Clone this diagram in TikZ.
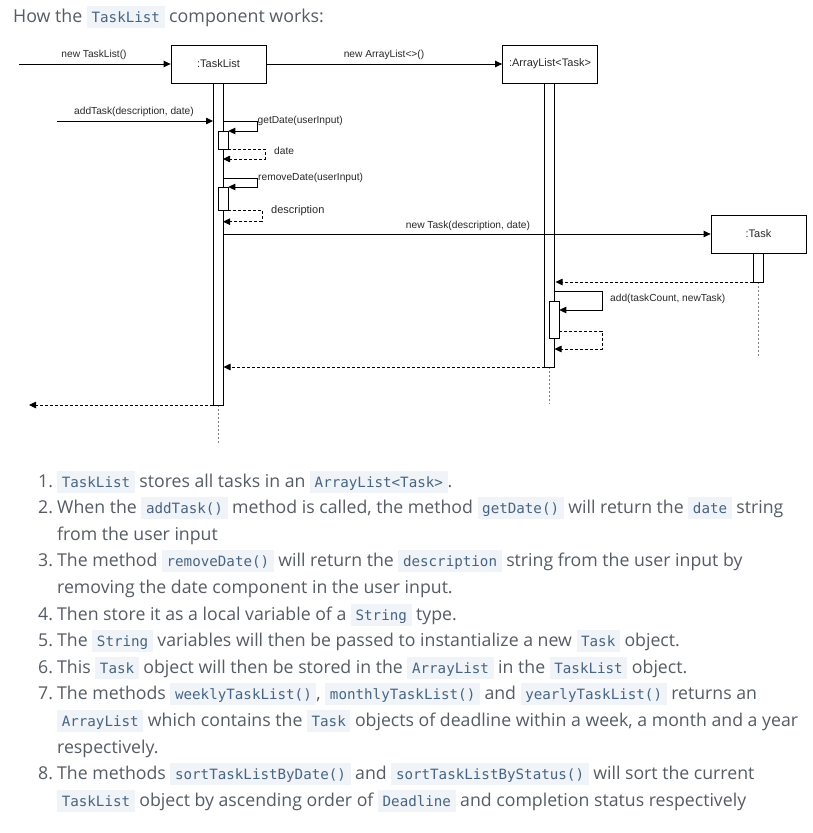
\documentclass[tikz,border=0pt]{standalone}
\usepackage{fontspec}
\usetikzlibrary{arrows.meta}
\setmainfont{Open Sans}
\newfontfamily\diagfont{Liberation Sans}
\newfontfamily\codefont{DejaVu Sans Mono}
\definecolor{textgray}{RGB}{86,92,100}
\definecolor{codefg}{RGB}{71,101,130}
\definecolor{codebg}{RGB}{240,243,247}
\definecolor{diagtext}{RGB}{40,40,40}
\newcommand{\code}[1]{\begingroup\setlength{\fboxsep}{0pt}\colorbox{codebg}{\rule[-5.5pt]{0pt}{22pt}\hspace{4.6pt}{\codefont\fontsize{14.2}{16}\selectfont\color{codefg}#1}\hspace{4.6pt}}\endgroup}
\tikzset{
  obj/.style={draw, line width=0.8pt, minimum width=95pt, minimum height=38pt, inner sep=0pt, font=\diagfont\fontsize{11}{13}\selectfont, text=diagtext},
  actbar/.style={draw, line width=0.8pt, fill=white, minimum width=10pt, inner sep=0pt, anchor=north},
  msg/.style={line width=0.8pt, -{Triangle[length=7pt,width=6.5pt]}},
  ret/.style={msg, dash pattern=on 3pt off 2pt},
  life/.style={line width=0.7pt, gray, dash pattern=on 2pt off 2pt},
  lbl/.style={inner sep=0pt, font=\diagfont\fontsize{10.2}{12}\selectfont, text=diagtext},
  body/.style={inner sep=0pt, anchor=base west, font=\fontsize{17.7}{20}\selectfont, text=textgray},
}
\begin{document}
\begin{tikzpicture}[x=1pt,y=-1pt]
\fill[white] (0,0) rectangle (813,833);
\useasboundingbox (0,0) rectangle (813,833);

% heading
\node[inner sep=0pt, anchor=base west, font=\fontsize{17.8}{22}\selectfont, text=textgray] (head) at (13,22.7) {How the \code{TaskList} component works:};

% objects
\node[obj] (tl) at (218.5,64) {:TaskList};
\node[obj] (al) at (550,64) {:ArrayList<Task>};
\node[obj] (tk) at (758.5,234) {:Task};

% lifelines
\coordinate (tlL1) at (218,405);
\coordinate (tlL2) at (218,443);
\coordinate (alL1) at (549.5,367);
\coordinate (alL2) at (549.5,404);
\coordinate (tkL1) at (758.3,282);
\coordinate (tkL2) at (758.3,357);
\draw[life] (tlL1) -- (tlL2);
\draw[life] (alL1) -- (alL2);
\draw[life] (tkL1) -- (tkL2);

% activation bars
\node[actbar, minimum height=322pt] (tlbar) at (218,83) {};
\node[actbar, minimum height=284pt] (albar) at (549.5,83) {};
\node[actbar, minimum height=29pt] (tkbar) at (758.3,253) {};
\node[actbar, minimum height=18.3pt] (tls1) at (223.3,130.7) {};
\node[actbar, minimum height=23.3pt] (tls2) at (223.3,186.7) {};
\node[actbar, minimum height=37.6pt] (als1) at (554.3,300.7) {};

% coordinates
\coordinate (start0) at (19,64);
\coordinate (start1) at (57,121);
\coordinate (end1) at (213,121);
\coordinate (g0) at (223,121);
\coordinate (g1) at (257,121);
\coordinate (g2) at (257,131);
\coordinate (g3) at (228.3,131);
\coordinate (d0) at (228.3,149);
\coordinate (d1) at (265,149);
\coordinate (d2) at (265,159);
\coordinate (d3) at (223,159);
\coordinate (r0) at (223,178);
\coordinate (r1) at (257,178);
\coordinate (r2) at (257,187);
\coordinate (r3) at (228.3,187);
\coordinate (e0) at (228.3,210);
\coordinate (e1) at (262,210);
\coordinate (e2) at (262,221.7);
\coordinate (e3) at (223,221.7);
\coordinate (nt0) at (223,234);
\coordinate (tr0) at (753.3,282);
\coordinate (tr1) at (555.5,282);
\coordinate (a0) at (554.5,291);
\coordinate (a1) at (602,291);
\coordinate (a2) at (602,310);
\coordinate (a3) at (559.3,310);
\coordinate (b0) at (559.3,331);
\coordinate (b1) at (602,331);
\coordinate (b2) at (602,349);
\coordinate (b3) at (554.5,349);
\coordinate (c0) at (544.5,367);
\coordinate (c1) at (223.5,367);
\coordinate (f0) at (213,405);
\coordinate (f1) at (29,405);

% messages
\draw[msg] (start0) -- (tl.west);
\draw[msg] (tl.east) -- (al.west);
\draw[msg] (start1) -- (end1);
\draw[msg] (g0) -- (g1) -- (g2) -- (g3);
\draw[ret] (d0) -- (d1) -- (d2) -- (d3);
\draw[msg] (r0) -- (r1) -- (r2) -- (r3);
\draw[ret] (e0) -- (e1) -- (e2) -- (e3);
\draw[msg] (nt0) -- (tk.west);
\draw[ret] (tr0) -- (tr1);
\draw[msg] (a0) -- (a1) -- (a2) -- (a3);
\draw[ret] (b0) -- (b1) -- (b2) -- (b3);
\draw[ret] (c0) -- (c1);
\draw[ret] (f0) -- (f1);

% labels
\node[lbl] (lnewtl) at (94,55) {new TaskList()};
\node[lbl] (lnewal) at (384,55) {new ArrayList<>()};
\node[lbl] (laddt) at (134,112) {addTask(description, date)};
\node[lbl, anchor=west] (lget) at (257.5,121) {getDate(userInput)};
\node[lbl, anchor=west] (ldate) at (274,151) {date};
\node[lbl, anchor=west] (lrem) at (258,178) {removeDate(userInput)};
\node[lbl, anchor=west, font=\diagfont\fontsize{11}{13}\selectfont] (ldesc) at (271,211) {description};
\node[lbl] (lnewtask) at (468,226) {new Task(description, date)};
\node[lbl, anchor=west] (laddtc) at (610,299) {add(taskCount, newTask)};

% list
\node[body] (n1) at (38,487) {1.};
\node[body] (t1) at (57,487) {\code{TaskList} stores all tasks in an \code{ArrayList<Task>}.};
\node[body] (n2) at (38,513.6) {2.};
\node[body] (t2a) at (57,513.6) {When the \code{addTask()} method is called, the method \code{getDate()} will return the \code{date} string};
\node[body] (t2b) at (57,540.2) {from the user input};
\node[body] (n3) at (38,566.8) {3.};
\node[body] (t3a) at (57,566.8) {The method \code{removeDate()} will return the \code{description} string from the user input by};
\node[body] (t3b) at (57,593.4) {removing the date component in the user input.};
\node[body] (n4) at (38,620) {4.};
\node[body] (t4) at (57,620) {Then store it as a local variable of a \code{String} type.};
\node[body] (n5) at (38,646.6) {5.};
\node[body] (t5) at (57,646.6) {The \code{String} variables will then be passed to instantialize a new \code{Task} object.};
\node[body] (n6) at (38,673.2) {6.};
\node[body] (t6) at (57,673.2) {This \code{Task} object will then be stored in the \code{ArrayList} in the \code{TaskList} object.};
\node[body] (n7) at (38,699.8) {7.};
\node[body] (t7a) at (57,699.8) {The methods \code{weeklyTaskList()}, \code{monthlyTaskList()} and \code{yearlyTaskList()} returns an};
\node[body] (t7b) at (57,726.4) {\code{ArrayList} which contains the \code{Task} objects of deadline within a week, a month and a year};
\node[body] (t7c) at (57,753) {respectively.};
\node[body] (n8) at (38,779.6) {8.};
\node[body] (t8a) at (57,779.6) {The methods \code{sortTaskListByDate()} and \code{sortTaskListByStatus()} will sort the current};
\node[body] (t8b) at (57,806.2) {\code{TaskList} object by ascending order of \code{Deadline} and completion status respectively};
\end{tikzpicture}
\end{document}
